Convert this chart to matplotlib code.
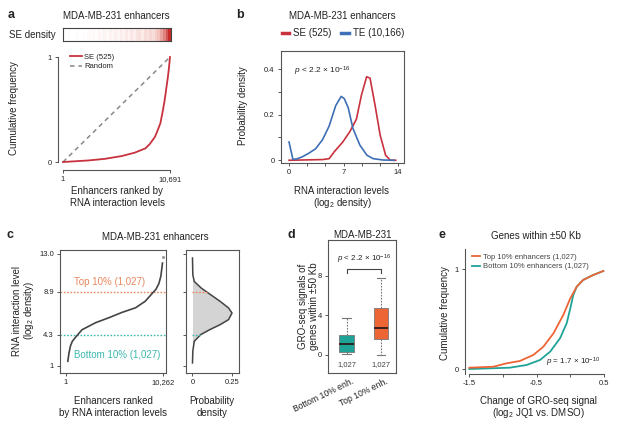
import numpy as np
import matplotlib
matplotlib.use('Agg')
import matplotlib.pyplot as plt
import matplotlib.transforms as mtransforms
from matplotlib.colors import LinearSegmentedColormap
from matplotlib.lines import Line2D

plt.rcParams['font.family'] = ['Liberation Sans', 'DejaVu Sans']
plt.rcParams['mathtext.fontset'] = 'custom'
plt.rcParams['mathtext.rm'] = 'Liberation Sans'
plt.rcParams['mathtext.it'] = 'Liberation Sans:italic'

# ---------------- data ----------------
# panel a
a_n_enh = 10691
a_se_density = [0, 0, 0.02, 0, 0, 0.03, 0, 0.02, 0, 0.04,
                0.03, 0.06, 0.02, 0.08, 0.03, 0.10, 0.04, 0.12, 0.06, 0.14,
                0.08, 0.17, 0.10, 0.20, 0.12, 0.22, 0.15, 0.25, 0.28, 0.18,
                0.32, 0.25, 0.38, 0.30, 0.45, 0.52, 0.62, 0.72, 0.86, 1.00]
a_rank = [1, 2535, 4170, 5880, 7160, 8230, 8660, 9190, 9410, 9730, 9940, 10160, 10320, 10480, 10590, 10691]
a_cum = [0.0, 0.015, 0.03, 0.057, 0.089, 0.13, 0.17, 0.24, 0.29, 0.37, 0.47, 0.59, 0.70, 0.81, 0.90, 1.0]

# panel b
b_te_x = [0, 0.5, 1.0, 1.7, 2.5, 3.4, 4.3, 5.15, 6.0, 6.7, 7.1, 7.6, 8.2, 9.1, 10.0, 10.8, 12.1, 13.5]
b_te_y = [0.08, 0.004, 0.006, 0.015, 0.03, 0.05, 0.09, 0.15, 0.24, 0.28, 0.27, 0.23, 0.14, 0.066, 0.022, 0.007, 0.001, 0.0]
b_se_x = [0, 4.3, 5.15, 5.8, 6.9, 7.8, 8.65, 9.3, 9.96, 10.4, 11.05, 11.7, 12.4, 13.0, 13.7]
b_se_y = [0, 0.003, 0.007, 0.037, 0.08, 0.125, 0.18, 0.286, 0.366, 0.36, 0.24, 0.11, 0.022, 0.0, 0.0]

# panel c
c_n_enh = 10262
c_rank = [246, 360, 530, 720, 1030, 1740, 3180, 4620, 5950, 7390, 8410, 9550, 9850, 10060, 10230]
c_level = [1.46, 2.3, 3.13, 3.6, 4.0, 4.84, 5.6, 6.15, 6.7, 7.2, 7.9, 9.2, 9.8, 10.6, 12.0]
c_top_cut = 8.9
c_bottom_cut = 4.3
c_dens_level = [1.28, 2.53, 3.6, 4.32, 4.86, 5.39, 5.93, 6.64, 7.18, 7.89, 8.6, 9.32, 10.03, 10.75, 12.54]
c_dens = [0.0, 0.002, 0.011, 0.052, 0.11, 0.175, 0.228, 0.25, 0.228, 0.175, 0.115, 0.055, 0.011, 0.002, 0.0]

# panel d
d_labels = ['Bottom 10% enh.', 'Top 10% enh.']
d_counts = ['1,027', '1,027']
d_q1 = [0.33, 1.62]
d_med = [1.05, 2.73]
d_q3 = [2.03, 4.73]
d_whislo = [0.05, 0.0]
d_whishi = [3.7, 7.83]

# panel e
e_top_x = [-1.5, -1.14, -0.945, -0.75, -0.55, -0.40, -0.25, -0.104, 0.0, 0.095, 0.19, 0.34, 0.49]
e_top_y = [0.016, 0.026, 0.06, 0.083, 0.143, 0.226, 0.36, 0.543, 0.71, 0.826, 0.893, 0.943, 0.983]
e_bot_x = [-1.5, -0.9, -0.65, -0.45, -0.30, -0.153, -0.054, 0.0, 0.044, 0.095, 0.19, 0.34, 0.49]
e_bot_y = [0.003, 0.016, 0.043, 0.093, 0.176, 0.31, 0.46, 0.61, 0.743, 0.826, 0.893, 0.943, 0.983]

# ---------------- style ----------------
RED = '#C8323E'
BLUE = '#3F6FB5'
ORANGE = '#EE6535'
TEAL = '#1FA396'
ORANGE_L = '#E8875E'
TEAL_L = '#3DB8AD'
SPINE = '#555555'
TXT = '#222222'
TICK_FS = 5.5
LAB_FS = 7

W, H = 621, 429
fig = plt.figure(figsize=(W / 100, H / 100), dpi=100)


def rect(x0, y0, x1, y1):
    return [x0 / W, 1 - y1 / H, (x1 - x0) / W, (y1 - y0) / H]


def ftext(x, y, s, **kw):
    kw.setdefault('ha', 'center')
    kw.setdefault('va', 'center')
    kw.setdefault('color', TXT)
    kw.setdefault('fontsize', LAB_FS)
    fig.text(x / W, 1 - y / H, s, **kw)


def style(ax, box=True):
    for s in ax.spines.values():
        s.set_color(SPINE)
        s.set_linewidth(0.8)
    if not box:
        ax.spines['top'].set_visible(False)
        ax.spines['right'].set_visible(False)
    ax.tick_params(length=2.5, width=0.7, color=SPINE, labelsize=TICK_FS,
                   labelcolor=TXT, pad=2)


# ---------------- panel a ----------------
ftext(11, 15, 'a', fontweight='bold', fontsize=9)
ftext(116, 16, 'MDA-MB-231 enhancers')
ftext(32, 35, 'SE density')
axh = fig.add_axes(rect(63, 28, 171, 41))
cmap = LinearSegmentedColormap.from_list('se', ['#FFFFFF', '#F4C9C4', '#C62B2B'])
axh.imshow(np.array(a_se_density)[None, :], aspect='auto', cmap=cmap, vmin=0, vmax=1,
           interpolation='nearest')
axh.set_xticks([]); axh.set_yticks([])
for s in axh.spines.values():
    s.set_color('#444444'); s.set_linewidth(0.8)

axa = fig.add_axes(rect(58, 52, 172, 170))
style(axa, box=False)
axa.plot([1, a_n_enh], [0, 1], ls=(0, (3, 2.5)), color='#888888', lw=1.1, label='Random')
axa.plot(a_rank, a_cum, color=RED, lw=1.3, label='SE (525)')
axa.set_xlim(-498, 10891)
axa.set_ylim(-0.076, 1.048)
axa.spines['bottom'].set_bounds(1, a_n_enh)
axa.spines['left'].set_bounds(0, 1)
axa.set_xticks([1, a_n_enh]); axa.set_xticklabels(['1', '10,691'])
axa.set_yticks([0, 1]); axa.set_yticklabels(['0', '1'])
h, l = axa.get_legend_handles_labels()
axa.legend(h[::-1], l[::-1], loc='upper left', bbox_to_anchor=(66 / W, 1 - 50 / H),
           bbox_transform=fig.transFigure, frameon=False, fontsize=5.5,
           handlelength=1.6, handletextpad=0.3, borderpad=0, labelspacing=0.25,
           labelcolor=TXT)
ftext(14, 108, 'Cumulative frequency', rotation=90)
ftext(117, 191, 'Enhancers ranked by')
ftext(117, 203, 'RNA interaction levels')

# ---------------- panel b ----------------
ftext(240, 15, 'b', fontweight='bold', fontsize=9)
ftext(342, 16, 'MDA-MB-231 enhancers')
axb = fig.add_axes(rect(281, 51, 404, 163))
style(axb)
axb.plot(b_se_x, b_se_y, color=RED, lw=1.2)
axb.plot(b_te_x, b_te_y, color=BLUE, lw=1.2)
axb.set_xlim(-1.03, 14.76)
axb.set_ylim(-0.012, 0.479)
axb.set_xticks([0, 7 / 3, 14 / 3, 7, 28 / 3, 35 / 3, 14])
axb.set_xticklabels(['0', '', '', '7', '', '', '14'])
axb.set_yticks([0, 0.1, 0.2, 0.3, 0.4])
axb.set_yticklabels(['0', '', '0.2', '', '0.4'])
axb.text(0.6, 0.39, r'$p$ < 2.2 × 10$^{-16}$', fontsize=6, color=TXT, va='center')
leg_b = [Line2D([0], [0], color=RED, lw=2.5), Line2D([0], [0], color=BLUE, lw=2.5)]
fig.legend(leg_b, ['SE (525)', 'TE (10,166)'], loc='center', ncol=2,
           bbox_to_anchor=(343 / W, 1 - 33 / H), frameon=False, fontsize=7,
           handlelength=0.8, handletextpad=0.4, columnspacing=1.0, labelcolor=TXT)
ftext(243, 106, 'Probability density', rotation=90)
ftext(342, 191, 'RNA interaction levels')
ftext(342, 203, r'(log$_2$ density)')

# ---------------- panel c ----------------
ftext(10, 235, 'c', fontweight='bold', fontsize=9)
ftext(155, 237, 'MDA-MB-231 enhancers')
axc = fig.add_axes(rect(60, 250, 166, 373))
style(axc)
axc.axhline(c_top_cut, color=ORANGE_L, ls=(0, (1.2, 1.2)), lw=1.0)
axc.axhline(c_bottom_cut, color=TEAL_L, ls=(0, (1.2, 1.2)), lw=1.0)
axc.plot(c_rank, c_level, color='#444444', lw=1.2)
axc.plot([c_n_enh], [12.6], 'o', color='#999999', ms=1.2)
axc.set_xlim(-580, 10600)
axc.set_ylim(0.2, 13.4)
axc.set_xticks([1, c_n_enh]); axc.set_xticklabels(['1', '10,262'])
axc.set_yticks([1, c_bottom_cut, c_top_cut, 13]); axc.set_yticklabels(['1', '4.3', '8.9', '13.0'])
axc.text(4700, 10.0, 'Top 10% (1,027)', color=ORANGE_L, fontsize=7, ha='center', va='center')
axc.text(5500, 2.1, 'Bottom 10% (1,027)', color=TEAL_L, fontsize=7, ha='center', va='center')

axc2 = fig.add_axes(rect(186, 250, 238.5, 373))
style(axc2)
axc2.fill_betweenx(c_dens_level, 0, c_dens, color='#D4D4D4', lw=0)
axc2.plot(c_dens, c_dens_level, color='#444444', lw=1.1)
axc2.plot([0, np.interp(c_top_cut, c_dens_level, c_dens)], [c_top_cut] * 2,
          color=ORANGE_L, ls=(0, (1.2, 1.2)), lw=1.0)
axc2.plot([0, np.interp(c_bottom_cut, c_dens_level, c_dens)], [c_bottom_cut] * 2,
          color=TEAL_L, ls=(0, (1.2, 1.2)), lw=1.0)
axc2.set_xlim(-0.041, 0.291)
axc2.set_ylim(0.2, 13.4)
axc2.set_xticks([0, 0.25]); axc2.set_xticklabels(['0', '0.25'])
axc2.set_yticks([1, c_bottom_cut, c_top_cut, 13]); axc2.set_yticklabels([])
ftext(17, 311, 'RNA interaction level', rotation=90)
ftext(29, 311, r'(log$_2$ density)', rotation=90)
ftext(113, 401, 'Enhancers ranked')
ftext(113, 413, 'by RNA interaction levels')
ftext(212, 401, 'Probability')
ftext(212, 413, 'density')

# ---------------- panel d ----------------
ftext(291, 235, 'd', fontweight='bold', fontsize=9)
ftext(362, 235, 'MDA-MB-231')
axd = fig.add_axes(rect(328, 240, 396, 373))
style(axd)
stats = []
for i in range(2):
    stats.append(dict(med=d_med[i], q1=d_q1[i], q3=d_q3[i], whislo=d_whislo[i],
                      whishi=d_whishi[i], fliers=[], label=d_labels[i]))
bp = axd.bxp(stats, positions=[1, 2], widths=0.43, patch_artist=True, showfliers=False,
             boxprops=dict(lw=0.6, edgecolor='#777777'),
             medianprops=dict(color='#2B1A1A', lw=1.3),
             whiskerprops=dict(color='#777777', ls=(0, (1.5, 1.2)), lw=0.8),
             capprops=dict(color='#777777', lw=0.8))
for patch, c in zip(bp['boxes'], [TEAL, ORANGE]):
    patch.set_facecolor(c)
for c in bp['caps']:
    x = c.get_xdata()
    m = np.mean(x)
    c.set_xdata([m - 0.12, m + 0.12])
axd.set_xlim(0.46, 2.44)
axd.set_ylim(-1.85, 11.65)
axd.set_yticks([0, 4, 8])
axd.set_xticks([1, 2])
axd.set_xticklabels(d_labels, rotation=26, ha='right', rotation_mode='anchor', fontsize=6.2)
axd.tick_params(axis='x', length=0, pad=3)
shift = mtransforms.ScaledTranslation(5 / 100, 0, fig.dpi_scale_trans)
for lab in axd.get_xticklabels():
    lab.set_transform(lab.get_transform() + shift)
for i, c in enumerate(d_counts):
    axd.text(i + 1, -1.0, c, fontsize=5.5, color='#444444', ha='center', va='center')
axd.plot([1, 1, 2, 2], [8.3, 8.68, 8.68, 8.3], color='#444444', lw=0.8)
axd.text(1.5, 9.7, r'$p$ < 2.2 × 10$^{-16}$', fontsize=5.8, color=TXT, ha='center', va='center')
ftext(303, 306, 'GRO-seq signals of', rotation=90)
ftext(314, 306, 'genes within ±50 Kb', rotation=90)

# ---------------- panel e ----------------
ftext(442, 235, 'e', fontweight='bold', fontsize=9)
ftext(536, 236, 'Genes within ±50 Kb')
axe = fig.add_axes(rect(465, 249, 606, 374))
style(axe, box=False)
axe.plot(e_bot_x, e_bot_y, color=TEAL, lw=1.3, label='Bottom 10% enhancers (1,027)')
axe.plot(e_top_x, e_top_y, color=ORANGE, lw=1.3, label='Top 10% enhancers (1,027)')
axe.set_xlim(-1.564, 0.53)
axe.set_ylim(-0.047, 1.203)
axe.spines['bottom'].set_bounds(-1.5, 0.5)
axe.set_xticks([-1.5, -1.0, -0.5, 0, 0.5])
axe.set_xticklabels(['-1.5', '', '-0.5', '', '0.5'])
axe.set_yticks([0, 1]); axe.set_yticklabels(['0', '1'])
h, l = axe.get_legend_handles_labels()
axe.legend(h[::-1], l[::-1], loc='upper left', bbox_to_anchor=(468 / W, 1 - 250 / H),
           bbox_transform=fig.transFigure, frameon=False, fontsize=5.5,
           handlelength=1.1, handletextpad=0.3, borderpad=0, labelspacing=0.25,
           labelcolor='#444444')
axe.text(0.45, 0.07, r'$p$ = 1.7 × 10$^{-10}$', fontsize=5.8, color=TXT, ha='right', va='center')
ftext(445, 313, 'Cumulative frequency', rotation=90)
ftext(538, 401, 'Change of GRO-seq signal')
ftext(538, 413, r'(log$_2$ JQ1 vs. DMSO)')

fig.savefig('out.png', dpi=100)
